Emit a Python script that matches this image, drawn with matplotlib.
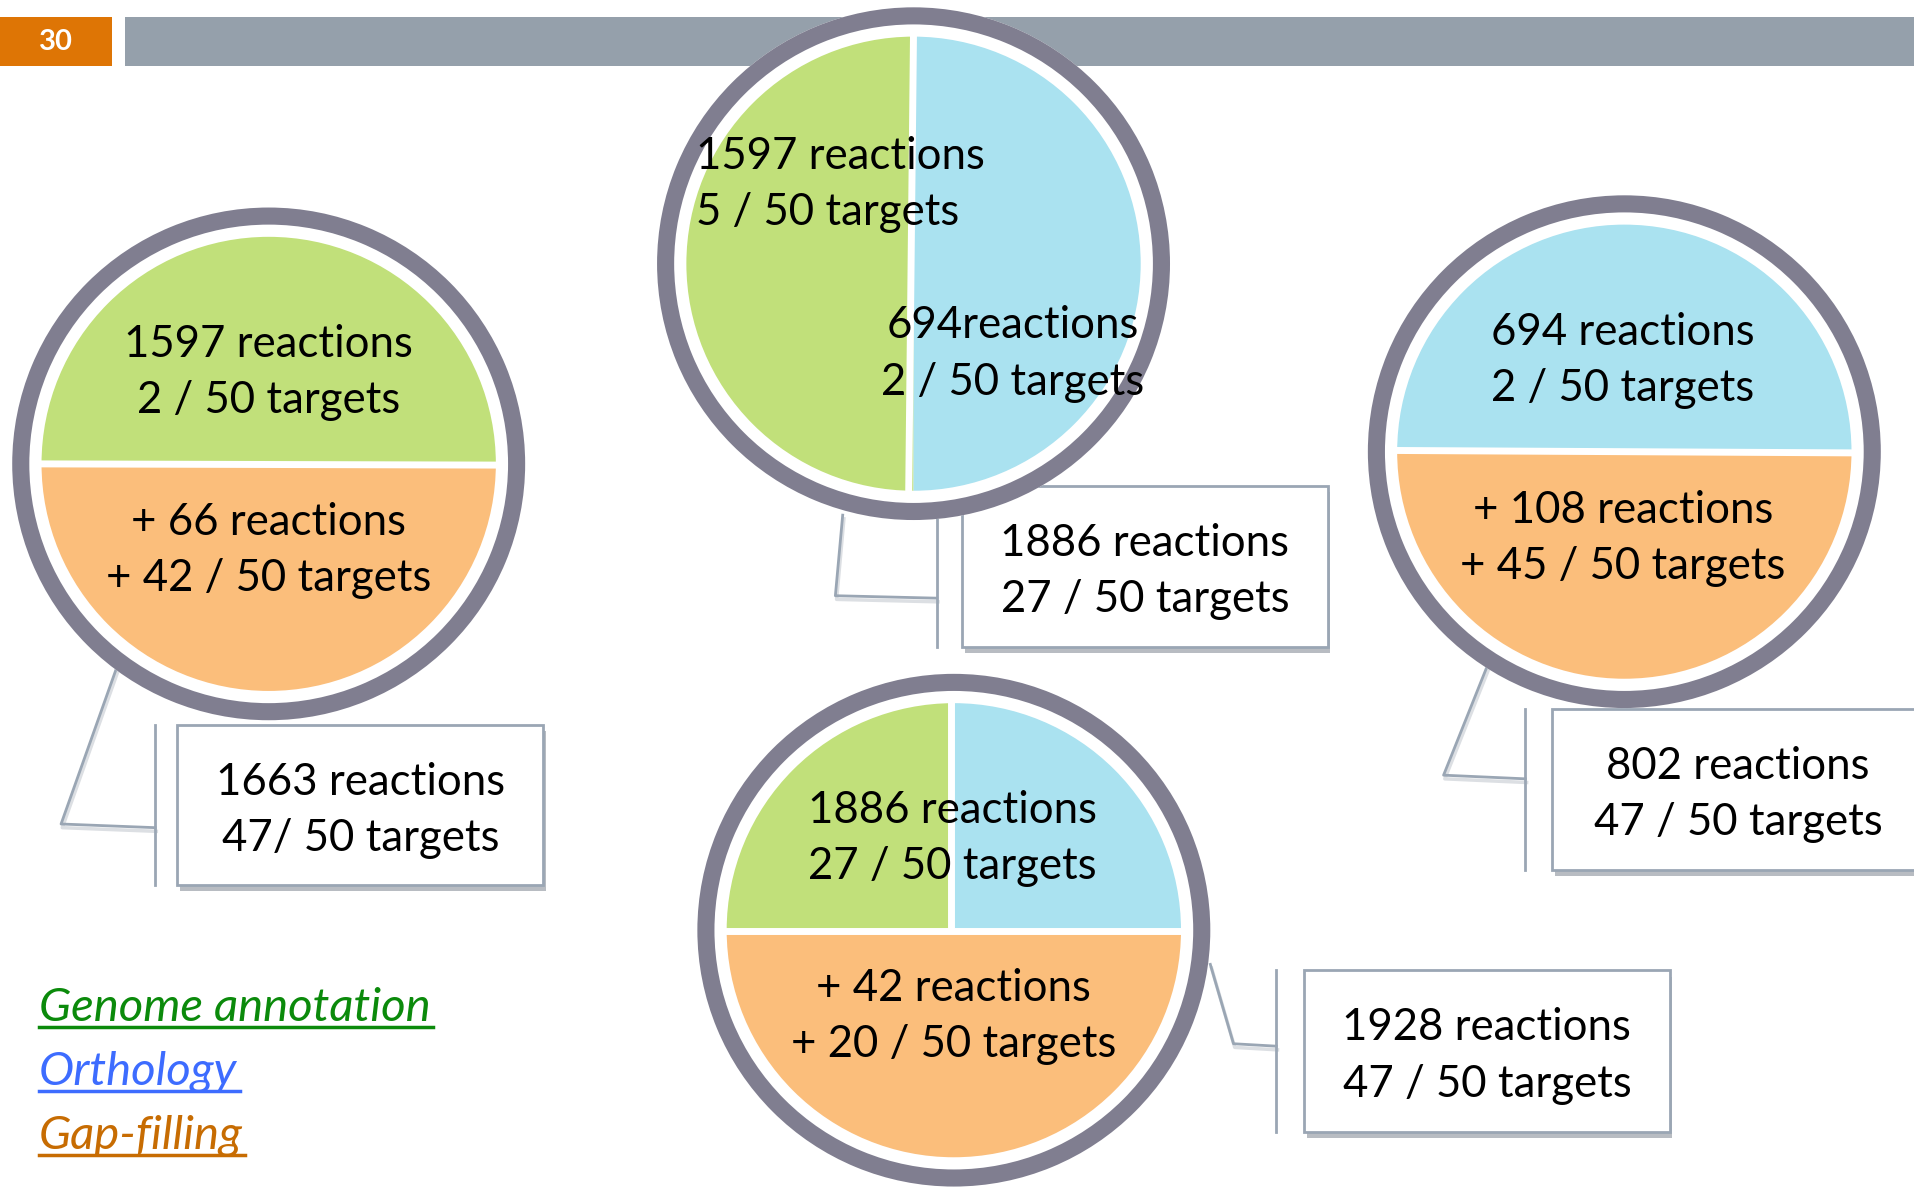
import matplotlib.pyplot as plt
from matplotlib.patches import Wedge, Rectangle

plt.rcParams['font.family'] = ['Lato', 'DejaVu Sans']

# slide content
slide_number = '30'
legend_items = ['Genome annotation', 'Orthology', 'Gap-filling']

left_top = ['1597 reactions', '2 / 50 targets']
left_bottom = ['+ 66 reactions', '+ 42 / 50 targets']
left_total = ['1663 reactions', '47/ 50 targets']

mid_left = ['1597 reactions', '5 / 50 targets']
mid_right = ['694reactions', '2 / 50 targets']
mid_total = ['1886 reactions', '27 / 50 targets']

right_top = ['694 reactions', '2 / 50 targets']
right_bottom = ['+ 108 reactions', '+ 45 / 50 targets']
right_total = ['802 reactions', '47 / 50 targets']

low_top = ['1886 reactions', '27 / 50 targets']
low_bottom = ['+ 42 reactions', '+ 20 / 50 targets']
low_total = ['1928 reactions', '47 / 50 targets']

GREEN = '#c1e07a'
BLUE = '#aae2f0'
ORANGE = '#fbbe7b'
RING = '#807e90'
LINE = '#9aa6b4'
legend_colors = ['#0b8a0b', '#3d6cff', '#c76c02']

fig = plt.figure(figsize=(19.15, 11.89), dpi=100)
ax = fig.add_axes([0, 0, 1, 1])
ax.set_xlim(0, 1568)
ax.set_ylim(974, 0)
ax.axis('off')

# header bars
ax.add_patch(Rectangle((0, 14), 92, 40, color='#de7505', lw=0))
ax.add_patch(Rectangle((102, 14), 1500, 40, color='#95a0ab', lw=0))
ax.text(46, 34, slide_number, color='white', fontsize=21, fontweight='bold',
        ha='center', va='center')


def disc(cx, cy, parts, dividers):
    # white base, ring, coloured pieces, white gaps
    ax.add_patch(Wedge((cx, cy), 210, 0, 360, color='white', lw=0, zorder=3))
    ax.add_patch(Wedge((cx, cy), 210, 0, 360, width=14, color=RING, lw=0, zorder=4))
    for t1, t2, col in parts:
        ax.add_patch(Wedge((cx, cy), 186, t1, t2, color=col, lw=0, zorder=4))
    for (x0, y0), (x1, y1) in dividers:
        ax.plot([x0, x1], [y0, y1], color='white', lw=5, zorder=5,
                solid_capstyle='butt')


def lines2(x, y, txt, ha='center', size=31.5, dy=46):
    ax.text(x, y, txt[0], fontsize=size, ha=ha, va='center', zorder=8)
    ax.text(x, y + dy, txt[1], fontsize=size, ha=ha, va='center', zorder=8)


def callout(box, vline_x, path, txt, tx=None):
    x0, y0, x1, y1 = box
    ax.add_patch(Rectangle((x0 + 2, y0 + 5), x1 - x0, y1 - y0, color='#b8bcc2',
                           lw=0, zorder=1))
    ax.add_patch(Rectangle((x0, y0), x1 - x0, y1 - y0, facecolor='white',
                           edgecolor=LINE, lw=2, zorder=2))
    ax.plot([vline_x, vline_x], [y0, y1], color=LINE, lw=2, zorder=2)
    xs, ys = zip(*path)
    ax.plot([p + 1 for p in xs], [p + 3 for p in ys], color='#dcdfe3', lw=2.5, zorder=1)
    ax.plot(xs, ys, color=LINE, lw=2, zorder=2)
    lines2(tx if tx else (x0 + x1) / 2, y0 + 47, txt)


# left circle
disc(220, 380, [(180, 360, GREEN), (0, 180, ORANGE)], [((30, 380), (410, 381))])
lines2(220, 282, left_top)
lines2(220, 428, left_bottom)
callout((145, 594, 445, 725), 127, [(127, 678), (50, 675), (98, 540)], left_total)

# top circle
disc(748, 216, [(90, 270, GREEN), (270, 450, BLUE)], [((748, 25), (744, 407))])
lines2(570, 128, mid_left, ha='left')
lines2(829, 267, mid_right)
callout((788, 398, 1087, 530), 767, [(767, 490), (684, 488), (690, 422)], mid_total)

# right circle
disc(1330, 370, [(180, 360, BLUE), (0, 180, ORANGE)], [((1140, 369), (1520, 371))])
lines2(1329, 272, right_top)
lines2(1329, 418, right_bottom)
callout((1271, 581, 1580, 713), 1249, [(1249, 638), (1182, 635), (1220, 540)],
        right_total, tx=1423)

# bottom circle
disc(781, 762, [(180, 270, GREEN), (270, 360, BLUE), (0, 180, ORANGE)],
     [((590, 763), (972, 763)), ((779, 570), (779, 762))])
lines2(780, 664, low_top)
lines2(781, 810, low_bottom)
callout((1068, 795, 1367, 927), 1045, [(1045, 857), (1010, 855), (991, 790)], low_total)

# legend with underline
fig.canvas.draw()
inv = ax.transData.inverted()
for i, (label, col) in enumerate(zip(legend_items, legend_colors)):
    base = 836 + i * 52.5
    t = ax.text(32, base, label, color=col, fontsize=34, style='italic',
                ha='left', va='baseline')
    bb = t.get_window_extent(fig.canvas.get_renderer())
    xa = inv.transform((bb.x0, 0))[0]
    xb = inv.transform((bb.x1, 0))[0]
    ax.plot([xa, xb + 2], [base + 5, base + 5], color=col, lw=2.5)

fig.savefig('out.png', dpi=100)
